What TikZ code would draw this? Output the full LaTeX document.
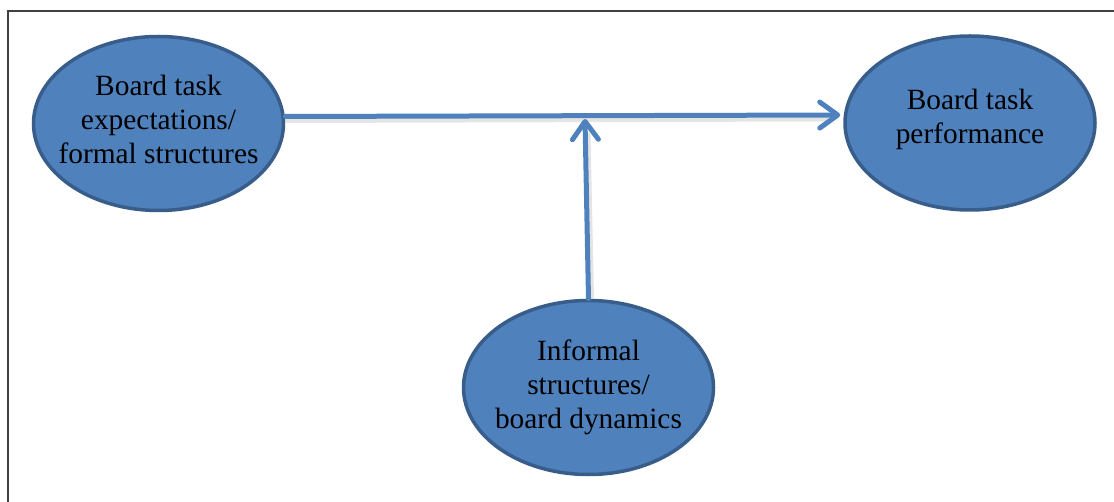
\documentclass[tikz,border=0pt]{standalone}
\usepackage{fontspec}
\setmainfont{Liberation Serif}
\usetikzlibrary{arrows.meta,calc,shapes.geometric}
\definecolor{nodefill}{RGB}{79,129,189}
\definecolor{nodeedge}{RGB}{56,93,138}
\definecolor{framegray}{RGB}{64,64,64}
\tikzset{
  concept/.style={ellipse, draw=nodeedge, fill=nodefill, line width=3.5bp,
    minimum width=250bp, minimum height=174bp, inner sep=0pt},
  conceptlabel/.style={align=center, inner sep=0pt, text=black,
    font=\fontsize{29.5}{34}\selectfont},
  link/.style={draw=nodefill, line width=5bp, line cap=round,
    -{Straight Barb[length=18bp, width=26bp, line cap=round, line join=round]}},
  linkshadow/.style={draw=black!35, opacity=0.3, line width=5bp, line cap=round}
}
\begin{document}
\begin{tikzpicture}[x=1bp, y=-1bp]
  \useasboundingbox (0,0) rectangle (1114,502);
  % frame: top and left rules
  \coordinate (fbl) at (8,502);
  \coordinate (ftl) at (8,11);
  \coordinate (ftr) at (1114,11);
  \draw[framegray, line width=2bp] (fbl) -- (ftl) -- (ftr);

  % concepts (the text sits on each ellipse as a centred label)
  \node[concept, label={[conceptlabel, yshift=4bp]center:Board task\\expectations/\\formal structures}]
    (formal) at (158.5,123.5) {};
  \node[concept, label={[conceptlabel, yshift=4bp]center:Board task\\performance}]
    (perf) at (970,123) {};
  \node[concept, label={[conceptlabel]center:Informal\\structures/\\board dynamics}]
    (informal) at (588.5,387.5) {};

  % end points of the connectors
  \coordinate (hs) at ($(formal.east)+(0,-7)$);
  \coordinate (he) at ($(perf.west)+(-3,-8)$);
  \coordinate (vs) at (informal.north);
  \coordinate (ve) at (585,119);

  % soft shadows under the connectors
  \draw[linkshadow] ($(hs)+(2,4)$) -- ($(he)+(-14,4)$);
  \draw[linkshadow] ($(vs)+(3,-2)$) -- ($(ve)+(3,16)$);

  % connectors
  \draw[link] (hs) -- (he);
  \draw[link] (vs) -- (ve);
\end{tikzpicture}
\end{document}
